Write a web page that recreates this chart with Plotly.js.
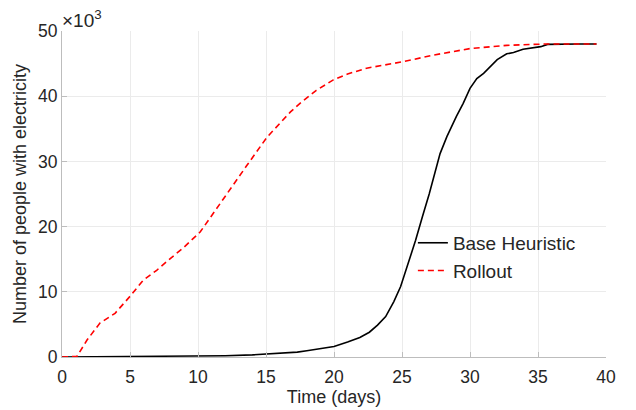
<!DOCTYPE html>
<html>
<head>
<meta charset="utf-8">
<script src="https://cdn.plot.ly/plotly-3.0.1.min.js"></script>
<style>html,body{margin:0;padding:0;background:#fff;}#chart{width:636px;height:410px;}</style>
</head>
<body>
<div id="chart"></div>
<script>
// Values in thousands of people
const baseDays = [0, 2, 4, 6, 8, 10, 12, 14, 15, 16, 17.3, 18, 19, 20, 21, 21.9, 22.6, 23.2, 23.8, 24.4, 24.9, 25.4, 26.0, 26.5, 27.0, 27.8, 28.3, 29.0, 29.5, 30.0, 30.5, 31.0, 31.5, 32.0, 32.7, 33.2, 33.9, 34.5, 35.2, 35.7, 36.5, 38, 39.3];
const baseValues = [0, 0.02, 0.04, 0.06, 0.08, 0.12, 0.2, 0.32, 0.42, 0.55, 0.75, 0.95, 1.3, 1.6, 2.3, 3.0, 3.8, 4.9, 6.2, 8.5, 10.8, 13.9, 17.9, 21.5, 25.0, 31.2, 33.8, 36.9, 38.9, 41.2, 42.7, 43.5, 44.6, 45.6, 46.5, 46.7, 47.2, 47.4, 47.6, 47.95, 48.0, 48.0, 48.0];

const rollDays = [0, 0.5, 1.1, 1.84, 2.79, 3.9, 5.0, 5.98, 6.96, 7.96, 8.9, 10.17, 11.6, 13.6, 15.07, 16.8, 17.5, 18.7, 19.95, 21.0, 22.4, 25.1, 27.3, 30.0, 32.7, 35.4, 39.3];
const rollValues = [0, 0, 0.1, 2.6, 5.2, 6.7, 9.3, 11.8, 13.3, 15.1, 16.7, 19.2, 23.5, 29.4, 33.7, 37.6, 38.9, 40.9, 42.5, 43.4, 44.3, 45.3, 46.3, 47.3, 47.8, 48.0, 48.0];

const seriesNames = ["Base Heuristic", "Rollout"];
const xTicks = [0, 5, 10, 15, 20, 25, 30, 35, 40];
const yTicks = [0, 10, 20, 30, 40, 50];

const font = "Liberation Sans, Arial, sans-serif";
const textColor = "#262626";

const traces = [
  {x: baseDays, y: baseValues, name: seriesNames[0], mode: "lines",
   line: {color: "#000000", width: 1.6}},
  {x: rollDays, y: rollValues, name: seriesNames[1], mode: "lines",
   line: {color: "#ff0000", width: 1.6, dash: "6px,4px"}}
];

const axisCommon = {
  showgrid: true, gridcolor: "#ebebeb", gridwidth: 1,
  zeroline: false, showline: true, linecolor: "#bdbdbd", linewidth: 1,
  ticks: "inside", ticklen: 5, tickcolor: "#bdbdbd",
  tickfont: {family: font, size: 17.5, color: textColor},
  mirror: false
};

const layout = {
  width: 636, height: 410,
  margin: {l: 62, r: 30, t: 31, b: 53},
  paper_bgcolor: "#ffffff", plot_bgcolor: "#ffffff",
  font: {family: font, color: textColor},
  showlegend: true,
  legend: {x: 0.645, y: 0.307, xanchor: "left", yanchor: "middle",
           bgcolor: "rgba(255,255,255,0)", borderwidth: 0,
           font: {family: font, size: 19, color: textColor},
           itemwidth: 30, tracegroupgap: 0},
  xaxis: Object.assign({}, axisCommon, {
    range: [0, 40], tickvals: xTicks, ticktext: xTicks.map(String),
    ticklabelstandoff: 4,
    title: {text: "Time (days)", font: {family: font, size: 18, color: textColor}, standoff: 4}
  }),
  yaxis: Object.assign({}, axisCommon, {
    range: [0, 50], tickvals: yTicks, ticktext: yTicks.map(String),
    title: {text: "Number of people with electricity", font: {family: font, size: 18, color: textColor}, standoff: 6}
  }),
  annotations: [{
    xref: "paper", yref: "paper", x: 0, y: 1, xanchor: "left", yanchor: "bottom",
    text: "×10<sup>3</sup>", showarrow: false, xshift: -2, yshift: -2,
    font: {family: font, size: 19, color: textColor}
  }]
};

Plotly.newPlot("chart", traces, layout, {displayModeBar: false, staticPlot: true});
</script>
</body>
</html>
